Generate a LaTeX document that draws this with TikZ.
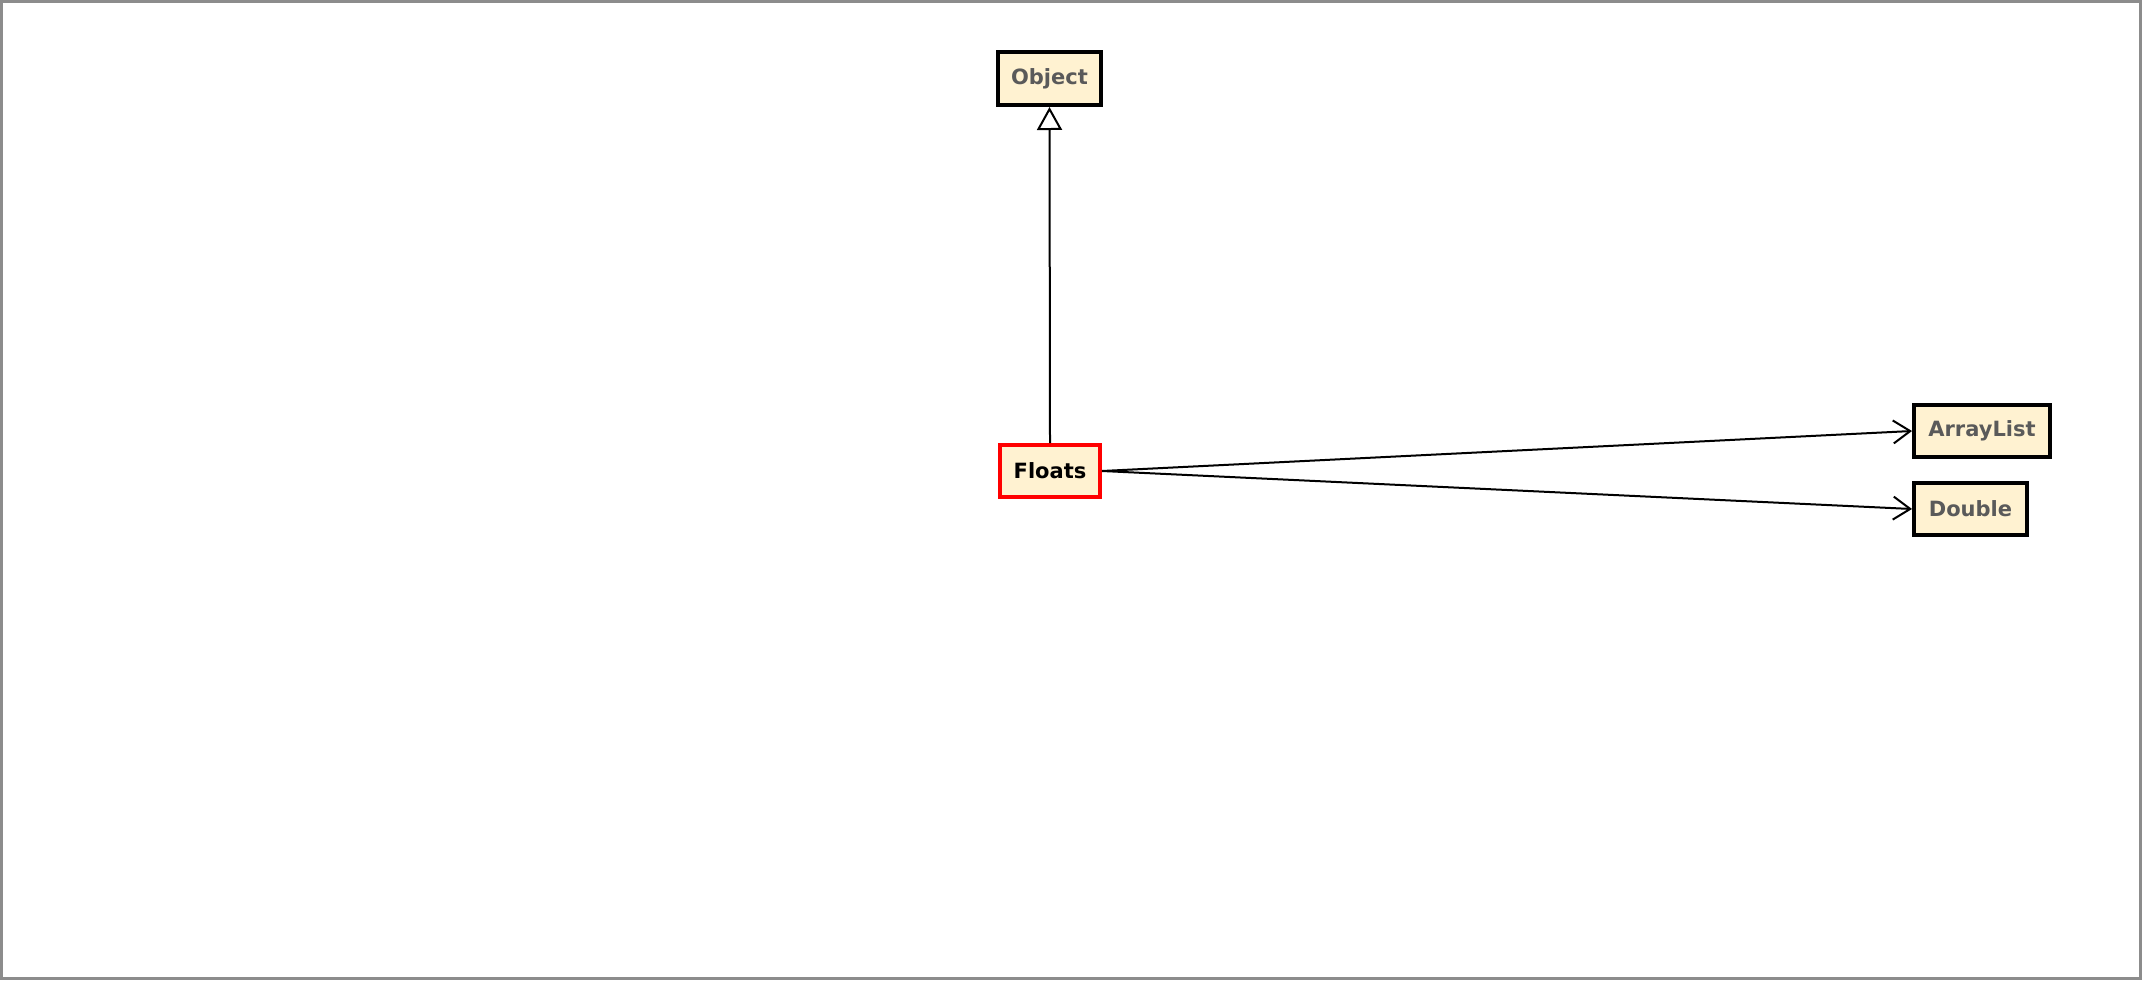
\documentclass[tikz,border=0pt]{standalone}
\usepackage{fontspec}
\setmainfont{DejaVu Sans}
\usetikzlibrary{arrows.meta}
\definecolor{classfill}{HTML}{FFF2D1}
\definecolor{classtext}{HTML}{5A5A5A}
\definecolor{framegray}{HTML}{8C8C8C}
\tikzset{
  classbox/.style={draw=black, line width=4pt, fill=classfill, inner sep=0pt,
    font=\fontsize{21}{24}\selectfont\bfseries, text=classtext, anchor=center},
  focusbox/.style={classbox, draw=red, text=black},
  inherit/.style={line width=2pt, -{Triangle[open, length=23pt, width=25pt, fill=white, line width=2pt]}},
  uses/.style={line width=2pt, -{Straight Barb[length=17pt, width=23pt, line width=2pt]}}
}
\begin{document}
\begin{tikzpicture}[x=1pt, y=-1pt]
  % page frame
  \fill[white] (0,0) rectangle (2142,980);
  \draw[framegray, line width=3pt] (1.5,1.5) rectangle (2140.5,978.5);
  \useasboundingbox (0,0) rectangle (2142,980);

  % classes
  \node[classbox, minimum width=103pt, minimum height=53pt] (object) at (1049.5,78.5) {Object};
  \node[focusbox, minimum width=100pt, minimum height=52pt] (floats) at (1050,471) {Floats};
  \node[classbox, minimum width=136pt, minimum height=52pt] (arraylist) at (1982,431) {ArrayList};
  \node[classbox, minimum width=113pt, minimum height=52pt] (double) at (1970.5,509) {Double};

  % relations
  \draw[inherit] (floats.north) -- (object.south);
  \draw[uses] (floats.east) -- (arraylist.west);
  \draw[uses] (floats.east) -- (double.west);
\end{tikzpicture}
\end{document}
